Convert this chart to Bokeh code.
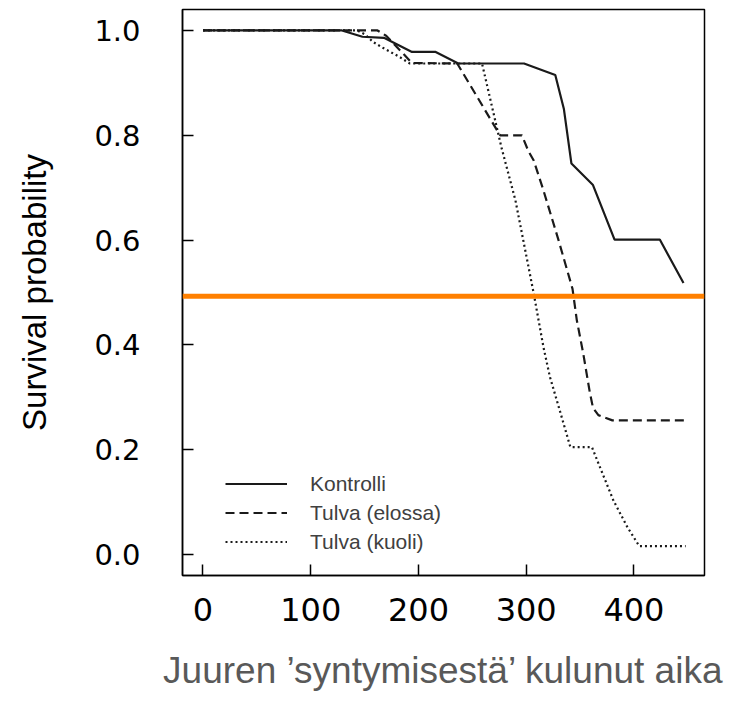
from bokeh.plotting import figure
from bokeh.models import Range1d, FixedTicker, Legend, LegendItem, Span, PrintfTickFormatter
from bokeh.embed import file_html
from bokeh.resources import INLINE

# Kaplan-Meier style survival curves (days since root emergence)
days_kontrolli = [0, 129, 148, 168, 194, 216, 237, 298, 327, 335, 342, 362, 382, 424, 446]
surv_kontrolli = [1.0, 1.0, 0.988, 0.986, 0.959, 0.959, 0.937, 0.937, 0.915, 0.85, 0.746,
                  0.705, 0.601, 0.601, 0.518]

days_elossa = [0, 162, 170, 194, 236, 274, 276, 296, 302, 307, 316, 330, 343, 347, 353,
               359, 362, 367, 380, 448]
surv_elossa = [1.0, 1.0, 0.99, 0.938, 0.937, 0.806, 0.8, 0.8, 0.77, 0.752, 0.695, 0.6,
               0.507, 0.447, 0.383, 0.31, 0.28, 0.266, 0.256, 0.256]

days_kuoli = [0, 143, 150, 158, 166, 182, 192, 259, 277, 290, 307, 316, 322, 332, 341,
              361, 369, 381, 394, 405, 448]
surv_kuoli = [1.0, 1.0, 0.993, 0.978, 0.968, 0.95, 0.937, 0.937, 0.777, 0.676, 0.498,
              0.396, 0.339, 0.269, 0.205, 0.205, 0.164, 0.103, 0.052, 0.016, 0.016]

series_names = ["Kontrolli", "Tulva (elossa)", "Tulva (kuoli)"]
x_ticks = [0, 100, 200, 300, 400]
y_ticks = [0.0, 0.2, 0.4, 0.6, 0.8, 1.0]
median_level = 0.493

p = figure(width=745, height=703, output_backend="svg", toolbar_location=None,
           x_range=Range1d(-19, 465.5), y_range=Range1d(-0.04, 1.04),
           min_border_left=182, min_border_right=41, min_border_top=9,
           min_border_bottom=128)

p.background_fill_color = "white"
p.border_fill_color = "white"
p.outline_line_color = "black"
p.outline_line_width = 1.5
p.grid.grid_line_color = None

line_color = "#1a1a1a"
r1 = p.line(days_kontrolli, surv_kontrolli, line_color=line_color, line_width=2.2)
r2 = p.line(days_elossa, surv_elossa, line_color=line_color, line_width=2.2,
            line_dash="9 5")
r3 = p.line(days_kuoli, surv_kuoli, line_color=line_color, line_width=2.2,
            line_dash="2 3")

p.add_layout(Span(location=median_level, dimension="width",
                  line_color="#FF8000", line_width=5))

# axes: inward ticks only
for ax in (p.xaxis[0], p.yaxis[0]):
    ax.major_tick_in = 11
    ax.major_tick_out = 0
    ax.major_tick_line_width = 1.5
    ax.major_tick_line_color = "black"
    ax.minor_tick_line_color = None
    ax.axis_line_color = "black"
    ax.axis_line_width = 1.5
    ax.major_label_text_color = "black"
    ax.major_label_text_font = "DejaVu Sans"
    ax.axis_label_text_font_style = "normal"

p.xaxis.ticker = FixedTicker(ticks=x_ticks)
p.yaxis.ticker = FixedTicker(ticks=y_ticks)
p.yaxis.formatter = PrintfTickFormatter(format="%.1f")

p.xaxis.major_label_text_font_size = "32px"
p.xaxis.major_label_standoff = 22
p.yaxis.major_label_text_font_size = "29px"
p.yaxis.major_label_standoff = 42

p.yaxis.axis_label = "Survival probability"
p.yaxis.axis_label_text_font = "Liberation Sans"
p.yaxis.axis_label_text_font_size = "33px"
p.yaxis.axis_label_text_color = "black"
p.yaxis.axis_label_standoff = 38

p.xaxis.axis_label = "Juuren \u2019syntymisest\u00e4\u2019 kulunut aika"
p.xaxis.axis_label_text_font = "Liberation Sans"
p.xaxis.axis_label_text_font_size = "37px"
p.xaxis.axis_label_text_color = "#595959"
p.xaxis.axis_label_standoff = 26

legend = Legend(
    items=[LegendItem(label=series_names[0], renderers=[r1]),
           LegendItem(label=series_names[1], renderers=[r2]),
           LegendItem(label=series_names[2], renderers=[r3])],
    location=(43, 21), glyph_width=62, glyph_height=25, label_height=25,
    spacing=4, padding=5, margin=0, label_standoff=23,
    label_text_font="Liberation Sans", label_text_font_size="21px",
    label_text_color="#404040", border_line_color=None,
    background_fill_color="white", background_fill_alpha=1.0)
p.add_layout(legend)

open("out.html", "w").write(file_html(p, INLINE))
